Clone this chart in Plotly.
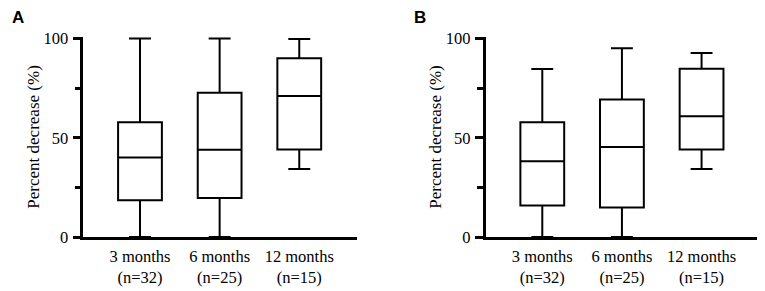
import plotly.graph_objects as go

categories = ["3 months<br>(n=32)", "6 months<br>(n=25)", "12 months<br>(n=15)"]

a_low = [0, 0, 34.2]
a_q1 = [18.5, 19.7, 44.1]
a_median = [40.1, 44.0, 71.0]
a_q3 = [57.8, 72.7, 90.1]
a_high = [100, 100, 99.7]

b_low = [0, 0, 34.2]
b_q1 = [15.9, 14.9, 44.1]
b_median = [38.1, 45.3, 60.8]
b_q3 = [57.8, 69.3, 84.7]
b_high = [84.6, 95.1, 92.7]

y_ticks = [0, 50, 100]
y_title = "Percent decrease (%)"
panel_labels = ["A", "B"]

OFF = 8  # default page body margin
W, H = 765 - OFF, 291 - OFF
SERIF = "Liberation Serif, Times New Roman, serif"

fig = go.Figure()

def add_box(xaxis, yaxis, low, q1, med, q3, high):
    fig.add_trace(go.Box(
        x=categories, q1=q1, median=med, q3=q3,
        lowerfence=low, upperfence=high,
        xaxis=xaxis, yaxis=yaxis,
        width=0.55, whiskerwidth=0.5,
        fillcolor="white", line=dict(color="black", width=2),
        boxpoints=False, showlegend=False, hoverinfo="skip",
    ))

add_box("x", "y", a_low, a_q1, a_median, a_q3, a_high)
add_box("x2", "y2", b_low, b_q1, b_median, b_q3, b_high)

LW = 2.5
y_bot_px, y_top_px = 237.0 - OFF, 38.5 - OFF
ppu = (y_bot_px - y_top_px) / 100.0
pad = 0.8
y0 = 1 - y_bot_px / H
y1 = 1 - (y_top_px - pad * ppu) / H

def xdom(left_px, right_px):
    return [(left_px - OFF + LW / 2) / W, (right_px - OFF) / W]

common_x = dict(
    type="category", showline=True, linecolor="black", linewidth=LW,
    ticks="", showgrid=False, zeroline=False, automargin=False,
    tickfont=dict(family=SERIF, size=16.5, color="black"),
    ticklabelstandoff=2,
    range=[-0.7125, 2.725], fixedrange=True,
)
common_y = dict(
    range=[0, 100 + pad], showline=True, linecolor="black", linewidth=LW,
    ticks="outside", ticklen=8, tickwidth=LW, tickcolor="black",
    tickvals=y_ticks, ticktext=[str(v) for v in y_ticks],
    minor=dict(tickvals=[25, 75], ticks="outside", ticklen=6, tickwidth=LW, tickcolor="black"),
    showgrid=False, zeroline=False, automargin=False,
    tickfont=dict(family=SERIF, size=16.5, color="black"),
    ticklabelstandoff=1,
    title=dict(text=y_title, font=dict(family=SERIF, size=17, color="black"), standoff=0),
    domain=[y0, y1],
)

fig.update_layout(
    width=W, height=H,
    margin=dict(l=0, r=0, t=0, b=0),
    paper_bgcolor="white", plot_bgcolor="white",
    xaxis=dict(domain=xdom(82, 357), anchor="y", **common_x),
    yaxis=dict(anchor="x", **common_y),
    xaxis2=dict(domain=xdom(484.3, 759.3), anchor="y2", **common_x),
    yaxis2=dict(anchor="x2", **common_y),
)

for lab, xp in zip(panel_labels, [10, 412]):
    fig.add_annotation(
        text="<b>%s</b>" % lab, x=(xp - OFF) / W, y=1 + 2 / H, xref="paper", yref="paper",
        xanchor="left", yanchor="top", showarrow=False,
        font=dict(family="Liberation Sans, Arial, sans-serif", size=17, color="black"),
    )

fig.write_html("out.html")
